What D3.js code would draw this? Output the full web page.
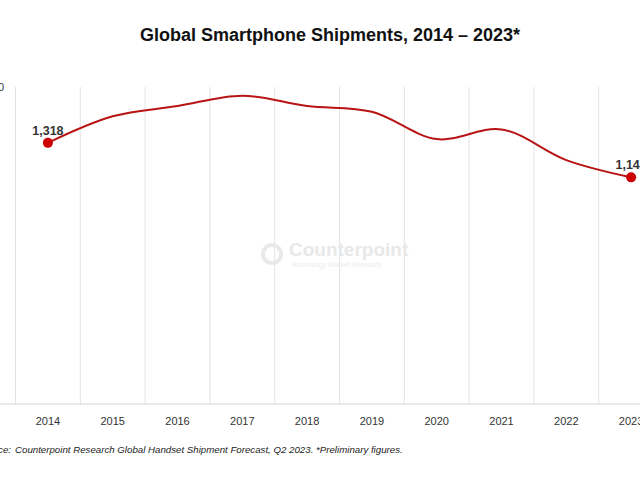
<!DOCTYPE html>
<html><head><meta charset="utf-8">
<script src="https://cdn.jsdelivr.net/npm/d3@7"></script>
<style>body{margin:0;background:#fff}svg{display:block}</style>
</head><body>
<svg id="chart" width="640" height="480"></svg>
<script>
const years = ["2014","2015","2016","2017","2018","2019","2020","2021","2022","2023"];
const shipments = [1318,1452,1504,1556,1504,1475,1337,1386,1231,1144];
const labelledIdx = [0,9];
const yTicks = [1600];
const title = "Global Smartphone Shipments, 2014 \u2013 2023*";
const sourceLabel = "Source:";
const sourceText = "Counterpoint Research Global Handset Shipment Forecast, Q2 2023. *Preliminary figures.";

const svg = d3.select("#chart");
const font = "'Liberation Sans', Arial, sans-serif";

const x = d3.scaleBand().domain(years).range([15.5, 15.5 + 64.8*10]).padding(0);
const y = d3.scaleLinear().domain([0,1600]).range([404,87]);

// vertical gridlines at band boundaries
const bounds = years.map(d => x(d)).concat([x(years[years.length-1]) + x.bandwidth()]);
svg.append("g").selectAll("line").data(bounds).join("line")
  .attr("x1", d=>d).attr("x2", d=>d).attr("y1", y(1600)).attr("y2", y(0))
  .attr("stroke", "#e3e3e3").attr("stroke-width", 1);

// baseline
svg.append("line").attr("x1", 0).attr("x2", 640).attr("y1", y(0)).attr("y2", y(0))
  .attr("stroke", "#e3e3e3").attr("stroke-width", 1.5);

// watermark
const wm = svg.append("g");
wm.append("circle").attr("cx", 272).attr("cy", 254).attr("r", 9)
  .attr("fill", "none").attr("stroke", "#e9e9e9").attr("stroke-width", 4);
wm.append("text").attr("x", 289).attr("y", 256).attr("font-family", font)
  .attr("font-size", 19).attr("font-weight", "bold").attr("fill", "#e8e8e8").text("Counterpoint");
wm.append("text").attr("x", 291).attr("y", 267).attr("font-family", font)
  .attr("font-size", 7).attr("fill", "#ececec").text("Technology Market Research");

// x axis labels
const xAxis = d3.axisBottom(x).tickSize(0).tickPadding(0);
const gx = svg.append("g").attr("transform", `translate(0,${y(0)})`).call(xAxis);
gx.select(".domain").remove();
gx.selectAll("text").attr("font-family", font).attr("font-size", 11)
  .attr("fill", "#333").attr("dy", null).attr("y", 21);

// y axis top label
const yAxis = d3.axisLeft(y).tickValues(yTicks).tickSize(0).tickPadding(0)
  .tickFormat(d3.format(","));
const gy = svg.append("g").attr("transform", "translate(4,0)").call(yAxis);
gy.select(".domain").remove();
gy.selectAll("text").attr("font-family", font).attr("font-size", 11).attr("fill", "#333");

// line
const cx = d => x(d) + x.bandwidth()/2;
const line = d3.line().x((d,i)=>cx(years[i])).y(d=>y(d)).curve(d3.curveCatmullRom.alpha(0.5));
svg.append("path").datum(shipments).attr("d", line)
  .attr("fill", "none").attr("stroke", "#b81414").attr("stroke-width", 2);

// points and labels
const pts = labelledIdx.map(i => ({yr: years[i], v: shipments[i]}));
svg.append("g").selectAll("circle").data(pts).join("circle")
  .attr("cx", d=>cx(d.yr)).attr("cy", d=>y(d.v)).attr("r", 5).attr("fill", "#cc0000");
svg.append("g").selectAll("text").data(pts).join("text")
  .attr("x", d=>cx(d.yr)).attr("y", d=>y(d.v)-8).attr("text-anchor", "middle")
  .attr("font-family", font).attr("font-size", 12.5).attr("font-weight", "bold").attr("fill", "#333")
  .text(d=>d3.format(",")(d.v));

// title
svg.append("text").attr("x", 330).attr("y", 41).attr("text-anchor", "middle")
  .attr("font-family", font).attr("font-size", 18).attr("font-weight", "bold").attr("fill", "#111")
  .text(title);

// source
svg.append("text").attr("x", 11).attr("y", 453).attr("text-anchor", "end")
  .attr("font-family", font).attr("font-size", 9.7).attr("font-style", "italic").attr("fill", "#222")
  .text(sourceLabel);
svg.append("text").attr("x", 15).attr("y", 453)
  .attr("font-family", font).attr("font-size", 9.7).attr("font-style", "italic").attr("fill", "#222")
  .text(sourceText);
</script>
</body></html>
